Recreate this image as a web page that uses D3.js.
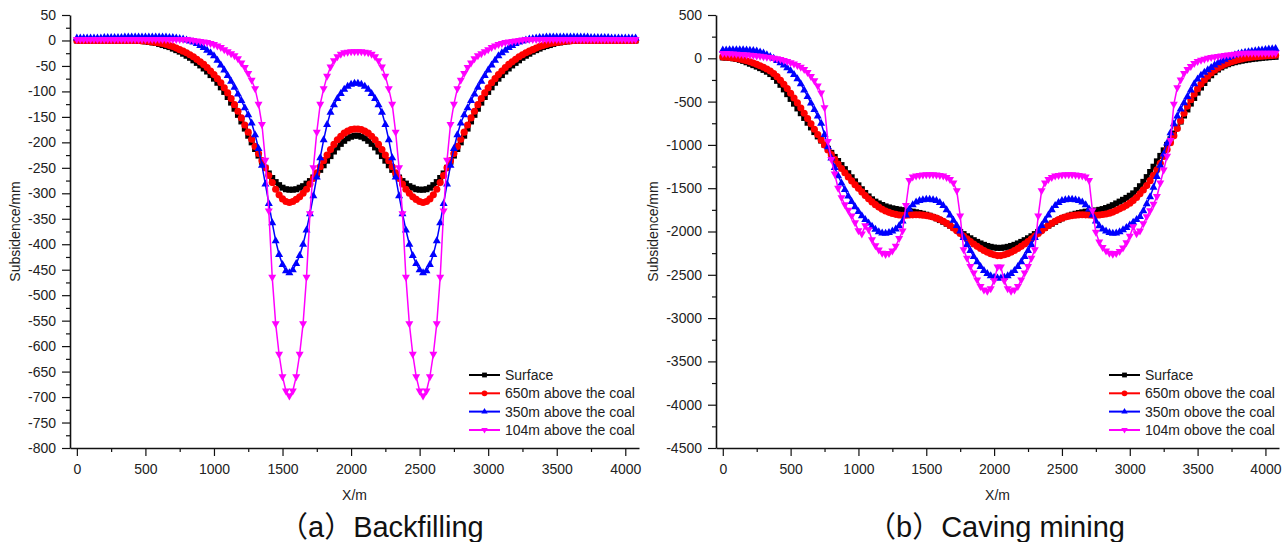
<!DOCTYPE html>
<html lang="en">
  <head>
    <meta charset="utf-8" />
    <title>Subsidence profiles: backfilling vs caving mining</title>
    <script src="https://d3js.org/d3.v7.min.js"></script>
    <style type="text/css">
      body {
        margin: 0;
        background: #fff;
      }
      text {
        font-family: "Liberation Sans", Arial, sans-serif;
        fill: #222;
      }
      .tick text {
        font-size: 14px;
      }
      .axisTitle,
      .legend text {
        font-size: 14px;
      }
      .caption {
        font-family: "Liberation Sans", "Noto Sans CJK SC", sans-serif;
        font-size: 29px;
        fill: #111;
      }
      .domain {
        stroke: #111;
        stroke-width: 1.6px;
      }
      .tick line {
        stroke: #111;
        stroke-width: 1.2px;
      }
    </style>
  </head>
  <body>
    <script type="text/javascript">
      const w = 1288;
      const h = 542;

      // Distance along the profile (m)
      const xs = [0,25,50,75,100,125,150,175,200,225,250,275,300,325,350,375,400,425,450,475,500,525,550,575,600,625,650,675,700,725,750,775,800,825,850,875,900,925,950,975,1000,1025,1050,1075,1100,1125,1150,1175,1200,1225,1250,1275,1300,1325,1350,1375,1400,1425,1450,1475,1500,1525,1550,1575,1600,1625,1650,1675,1700,1725,1750,1775,1800,1825,1850,1875,1900,1925,1950,1975,2000,2025,2050,2075,2100,2125,2150,2175,2200,2225,2250,2275,2300,2325,2350,2375,2400,2425,2450,2475,2500,2525,2550,2575,2600,2625,2650,2675,2700,2725,2750,2775,2800,2825,2850,2875,2900,2925,2950,2975,3000,3025,3050,3075,3100,3125,3150,3175,3200,3225,3250,3275,3300,3325,3350,3375,3400,3425,3450,3475,3500,3525,3550,3575,3600,3625,3650,3675,3700,3725,3750,3775,3800,3825,3850,3875,3900,3925,3950,3975,4000,4025,4050,4075];

      // (a) Backfilling, subsidence in mm
      const backfillSurface = [0,0,0,0,0,0,0,0,0,0,0,0,0,0,0,0,0,0,-1,-1,-2,-3,-4,-5,-7,-9,-11,-13,-16,-19,-22,-26,-30,-34,-39,-44,-49,-55,-61,-68,-75,-83,-92,-101,-111,-122,-134,-146,-159,-173,-187,-200,-213,-226,-238,-250,-261,-270,-278,-284,-289,-292,-293,-293,-292,-289,-286,-281,-276,-269,-262,-254,-245,-236,-227,-218,-210,-203,-197,-192,-189,-187,
        -187,-189,-192,-197,-203,-210,-218,-227,-236,-245,-254,-262,-269,-276,-281,-286,-289,-292,-293,-293,-292,-289,-284,-278,-270,-261,-250,-238,-226,-213,-200,-187,-173,-159,-146,-134,-122,-111,-101,-92,-83,-75,-68,-61,-55,-49,-44,-39,-34,-30,-26,-22,-19,-16,-13,-11,-9,-7,-5,-4,-3,-2,-1,-1,0,0,0,0,0,0,0,0,0,0,0,0,0,0,0,0,0,0];
      const backfill650 = [0,0,0,0,0,0,0,0,0,0,0,0,0,0,0,0,0,0,0,-1,-1,-2,-3,-4,-5,-6,-8,-10,-12,-15,-18,-21,-24,-28,-32,-37,-42,-47,-53,-60,-67,-75,-83,-93,-103,-114,-126,-139,-152,-166,-180,-194,-208,-222,-236,-250,-265,-279,-292,-303,-311,-316,-318,-316,-312,-307,-300,-292,-282,-271,-260,-248,-236,-225,-214,-204,-195,-188,-182,-178,-175,-174,
        -174,-175,-178,-182,-188,-195,-204,-214,-225,-236,-248,-260,-271,-282,-292,-300,-307,-312,-316,-318,-316,-311,-303,-292,-279,-265,-250,-236,-222,-208,-194,-180,-166,-152,-139,-126,-114,-103,-93,-83,-75,-67,-60,-53,-47,-42,-37,-32,-28,-24,-21,-18,-15,-12,-10,-8,-6,-5,-4,-3,-2,-1,-1,0,0,0,0,0,0,0,0,0,0,0,0,0,0,0,0,0,0,0];
      const backfill350 = [5,5,5,5,5,5,5,5,6,6,6,6,6,6,7,7,7,7,7,7,7,7,7,7,7,7,7,6,6,5,4,3,1,-1,-3,-6,-10,-14,-19,-24,-30,-39,-48,-58,-69,-80,-92,-105,-118,-132,-146,-162,-185,-212,-245,-282,-320,-358,-393,-420,-440,-452,-456,-450,-438,-422,-400,-372,-340,-305,-268,-230,-195,-165,-141,-126,-114,-104,-96,-90,-86,-84,
        -84,-86,-90,-96,-104,-114,-126,-141,-165,-195,-230,-268,-305,-340,-372,-400,-422,-438,-450,-456,-452,-440,-420,-393,-358,-320,-282,-245,-212,-185,-162,-146,-132,-118,-105,-92,-80,-69,-58,-48,-39,-30,-24,-19,-14,-10,-6,-3,-1,1,3,4,5,6,6,7,7,7,7,7,7,7,7,7,7,7,7,7,6,6,6,6,6,6,5,5,5,5,5,5,5,5];
      const backfill104 = [2,2,2,2,2,2,2,2,2,2,2,2,2,2,2,2,2,2,2,2,2,2,2,2,2,2,2,2,2,2,2,2,2,1,0,-1,-2,-3,-4,-6,-8,-11,-14,-18,-22,-26,-30,-36,-44,-53,-65,-78,-95,-125,-165,-235,-335,-465,-556,-616,-660,-688,-698,-688,-660,-616,-556,-465,-340,-250,-180,-125,-95,-70,-52,-40,-32,-27,-24,-23,-22,-22,
        -22,-22,-23,-24,-27,-32,-40,-52,-70,-95,-125,-180,-250,-340,-465,-556,-616,-660,-688,-698,-688,-660,-616,-556,-465,-335,-235,-165,-125,-95,-78,-65,-53,-44,-36,-30,-26,-22,-18,-14,-11,-8,-6,-4,-3,-2,-1,0,1,2,2,2,2,2,2,2,2,2,2,2,2,2,2,2,2,2,2,2,2,2,2,2,2,2,2,2,2,2,2,2,2,2];

      // (b) Caving mining, subsidence in mm
      const cavingSurface = [10,8,5,0,-8,-18,-30,-46,-63,-79,-96,-114,-134,-155,-182,-216,-260,-306,-359,-414,-469,-524,-579,-634,-689,-744,-798,-852,-902,-950,-998,-1045,-1092,-1139,-1186,-1233,-1280,-1327,-1374,-1421,-1467,-1512,-1555,-1595,-1628,-1655,-1676,-1694,-1710,-1722,-1732,-1740,-1747,-1753,-1759,-1765,-1771,-1778,-1786,-1795,-1806,-1818,-1832,-1848,-1868,-1888,-1910,-1932,-1955,-1980,-2005,-2030,-2055,-2078,-2100,-2120,-2138,-2154,-2167,-2177,-2185,-2189,
        -2189,-2185,-2177,-2167,-2154,-2138,-2120,-2100,-2078,-2055,-2030,-2005,-1980,-1955,-1932,-1910,-1888,-1868,-1848,-1832,-1818,-1806,-1795,-1786,-1778,-1771,-1768,-1763,-1757,-1750,-1741,-1729,-1714,-1696,-1676,-1655,-1634,-1612,-1587,-1560,-1522,-1477,-1427,-1372,-1313,-1252,-1190,-1127,-1063,-1000,-935,-868,-800,-731,-661,-591,-523,-458,-396,-338,-285,-237,-196,-160,-130,-105,-85,-69,-56,-45,-36,-28,-21,-15,-9,-4,0,5,9,12,15,17];
      const caving650 = [14,12,9,4,-2,-9,-18,-28,-40,-54,-70,-86,-104,-124,-147,-176,-212,-254,-300,-350,-403,-458,-515,-574,-634,-695,-757,-819,-881,-942,-1001,-1058,-1113,-1167,-1220,-1272,-1322,-1370,-1416,-1460,-1502,-1543,-1585,-1623,-1658,-1690,-1718,-1743,-1763,-1779,-1792,-1802,-1809,-1812,-1812,-1810,-1808,-1807,-1808,-1811,-1816,-1823,-1833,-1846,-1862,-1882,-1905,-1931,-1960,-1992,-2023,-2054,-2085,-2115,-2144,-2171,-2196,-2219,-2239,-2256,-2269,-2278,
        -2278,-2269,-2256,-2239,-2219,-2196,-2171,-2144,-2115,-2085,-2054,-2023,-1992,-1960,-1931,-1905,-1882,-1862,-1846,-1833,-1823,-1816,-1811,-1808,-1807,-1808,-1810,-1812,-1812,-1809,-1804,-1798,-1788,-1776,-1757,-1738,-1720,-1698,-1673,-1643,-1607,-1565,-1520,-1470,-1413,-1352,-1288,-1212,-1133,-1053,-975,-895,-810,-722,-635,-552,-478,-412,-352,-298,-250,-207,-170,-138,-111,-88,-69,-53,-39,-27,-17,-8,0,6,12,17,21,25,28,31,33,35];
      const caving350 = [95,97,98,99,99,99,98,96,93,89,83,74,60,42,22,0,-24,-50,-78,-110,-145,-186,-235,-295,-365,-440,-517,-592,-665,-750,-880,-1020,-1150,-1260,-1355,-1440,-1515,-1590,-1655,-1715,-1769,-1818,-1862,-1902,-1940,-1975,-2003,-2018,-2020,-2012,-1995,-1970,-1935,-1880,-1810,-1740,-1690,-1660,-1642,-1632,-1628,-1628,-1632,-1643,-1664,-1700,-1750,-1810,-1870,-1930,-1995,-2070,-2150,-2220,-2290,-2350,-2405,-2450,-2485,-2510,-2527,-2537,
        -2537,-2527,-2510,-2485,-2450,-2405,-2350,-2290,-2220,-2150,-2070,-1995,-1930,-1870,-1810,-1750,-1700,-1664,-1643,-1632,-1628,-1628,-1632,-1642,-1660,-1690,-1740,-1810,-1880,-1935,-1970,-1995,-2012,-2020,-2018,-2003,-1980,-1955,-1925,-1892,-1860,-1826,-1760,-1680,-1598,-1490,-1365,-1235,-1105,-977,-860,-755,-665,-585,-512,-440,-365,-295,-238,-195,-162,-133,-105,-78,-52,-30,-10,8,25,40,52,62,70,76,81,86,92,97,102,106,110,113];
      const caving104 = [55,54,52,50,48,45,42,39,36,32,28,23,18,13,8,2,-5,-14,-24,-36,-50,-66,-84,-104,-128,-165,-210,-258,-320,-400,-570,-960,-1170,-1335,-1500,-1610,-1690,-1755,-1820,-1900,-1990,-2030,-1935,-1980,-2095,-2165,-2215,-2250,-2265,-2255,-2225,-2170,-2080,-1995,-1700,-1410,-1370,-1358,-1352,-1348,-1346,-1345,-1346,-1348,-1352,-1360,-1375,-1400,-1440,-1530,-1820,-2210,-2310,-2405,-2480,-2560,-2635,-2675,-2690,-2660,-2570,-2410,
        -2410,-2570,-2660,-2690,-2675,-2635,-2560,-2480,-2405,-2310,-2210,-1820,-1530,-1440,-1400,-1375,-1360,-1352,-1348,-1346,-1345,-1346,-1348,-1352,-1358,-1370,-1410,-1760,-2010,-2120,-2185,-2225,-2250,-2262,-2255,-2230,-2190,-2130,-2055,-1945,-2025,-1995,-1910,-1830,-1760,-1685,-1596,-1440,-1290,-1130,-950,-530,-340,-250,-175,-130,-95,-60,-38,-22,-10,0,8,15,21,27,32,37,42,47,52,55,57,58,58,58,58,58,58,58,58,58];

      const namesA = ["Surface", "650m above the coal", "350m above the coal", "104m above the coal"];
      const namesB = ["Surface", "650m obove the coal", "350m obove the coal", "104m obove the coal"];

      const xTicks = [0, 500, 1000, 1500, 2000, 2500, 3000, 3500, 4000];
      const yTicksA = [50, 0, -50, -100, -150, -200, -250, -300, -350, -400, -450, -500, -550, -600, -650, -700, -750, -800];
      const yTicksB = [500, 0, -500, -1000, -1500, -2000, -2500, -3000, -3500, -4000, -4500];

      const colors = ["#000000", "#ff0000", "#0000ff", "#ff00ff"];
      const shapes = {
        square: "M-3,-3H3V3H-3Z",
        circle: d3.symbol(d3.symbolCircle, 40)(),
        up: "M0,-4.5L4,2.5H-4Z",
        down: "M0,4.5L4,-2.5H-4Z",
      };
      const shapeOrder = ["square", "circle", "up", "down"];

      const svg = d3
        .select("body")
        .append("svg")
        .attr("width", w)
        .attr("height", h);

      function drawPanel(p) {
        const x = d3.scaleLinear().domain([-50, 4100]).range([p.left, p.right]);
        const y = d3.scaleLinear().domain(p.yDomain).range([p.bottom, p.top]);
        const g = svg.append("g");

        // minor ticks first, then the major axes on top
        const xMinor = xTicks.slice(0, -1).map((t) => t + 250);
        const yMinor = p.yTicks.slice(0, -1).map((t, i) => (t + p.yTicks[i + 1]) / 2);

        g.append("g")
          .attr("transform", "translate(0," + p.bottom + ")")
          .call(d3.axisBottom(x).tickValues(xMinor).tickSize(4).tickFormat(""))
          .call((s) => s.select(".domain").remove());
        g.append("g")
          .attr("transform", "translate(" + p.left + ",0)")
          .call(d3.axisLeft(y).tickValues(yMinor).tickSize(4).tickFormat(""))
          .call((s) => s.select(".domain").remove());

        g.append("g")
          .attr("transform", "translate(0," + p.bottom + ")")
          .call(
            d3.axisBottom(x).tickValues(xTicks).tickSize(8).tickSizeOuter(0)
              .tickPadding(8).tickFormat((d) => String(d))
          );
        g.append("g")
          .attr("transform", "translate(" + p.left + ",0)")
          .call(
            d3.axisLeft(y).tickValues(p.yTicks).tickSize(8).tickSizeOuter(0)
              .tickPadding(6).tickFormat((d) => String(d))
          );

        // axis titles
        g.append("text")
          .attr("class", "axisTitle")
          .attr("x", (p.left + p.right) / 2)
          .attr("y", 500)
          .attr("text-anchor", "middle")
          .text("X/m");
        g.append("text")
          .attr("class", "axisTitle")
          .attr("transform", "translate(" + p.yTitleX + "," + (p.top + p.bottom) / 2 + ") rotate(-90)")
          .attr("text-anchor", "middle")
          .text("Subsidence/mm");

        // series: line + markers
        const line = d3.line().x((d) => x(d[0])).y((d) => y(d[1]));
        p.series.forEach(function (vals, k) {
          const pts = vals.map((v, i) => [xs[i], v]);
          const sg = g.append("g");
          sg.append("path")
            .attr("d", line(pts))
            .attr("fill", "none")
            .attr("stroke", colors[k])
            .attr("stroke-width", 1.5);
          sg.selectAll("path.m")
            .data(pts)
            .enter()
            .append("path")
            .attr("class", "m")
            .attr("d", shapes[shapeOrder[k]])
            .attr("fill", colors[k])
            .attr("transform", (d) => "translate(" + x(d[0]) + "," + y(d[1]) + ")");
        });

        // legend
        const lg = g.append("g").attr("class", "legend");
        const rowY = [375, 393.3, 411.6, 430];
        p.names.forEach(function (name, k) {
          const ry = rowY[k];
          lg.append("line")
            .attr("x1", p.legendX)
            .attr("x2", p.legendX + 31)
            .attr("y1", ry)
            .attr("y2", ry)
            .attr("stroke", colors[k])
            .attr("stroke-width", 2);
          lg.append("path")
            .attr("d", shapes[shapeOrder[k]])
            .attr("fill", colors[k])
            .attr("transform", "translate(" + (p.legendX + 15.5) + "," + ry + ") scale(0.8)");
          lg.append("text")
            .attr("x", p.legendX + 36)
            .attr("y", ry + 5)
            .text(name);
        });

        // caption
        svg.append("text")
          .attr("class", "caption")
          .attr("x", p.captionX)
          .attr("y", 537)
          .text(p.caption);
      }

      drawPanel({
        left: 70,
        right: 639,
        top: 15,
        bottom: 448,
        yDomain: [-800, 50],
        yTicks: yTicksA,
        yTitleX: 20,
        series: [backfillSurface, backfill650, backfill350, backfill104],
        names: namesA,
        legendX: 469,
        captionX: 279,
        caption: "（a）Backfilling",
      });

      drawPanel({
        left: 716,
        right: 1279,
        top: 15,
        bottom: 448,
        yDomain: [-4500, 500],
        yTicks: yTicksB,
        yTitleX: 658,
        series: [cavingSurface, caving650, caving350, caving104],
        names: namesB,
        legendX: 1109,
        captionX: 867,
        caption: "（b）Caving mining",
      });
    </script>
  </body>
</html>
